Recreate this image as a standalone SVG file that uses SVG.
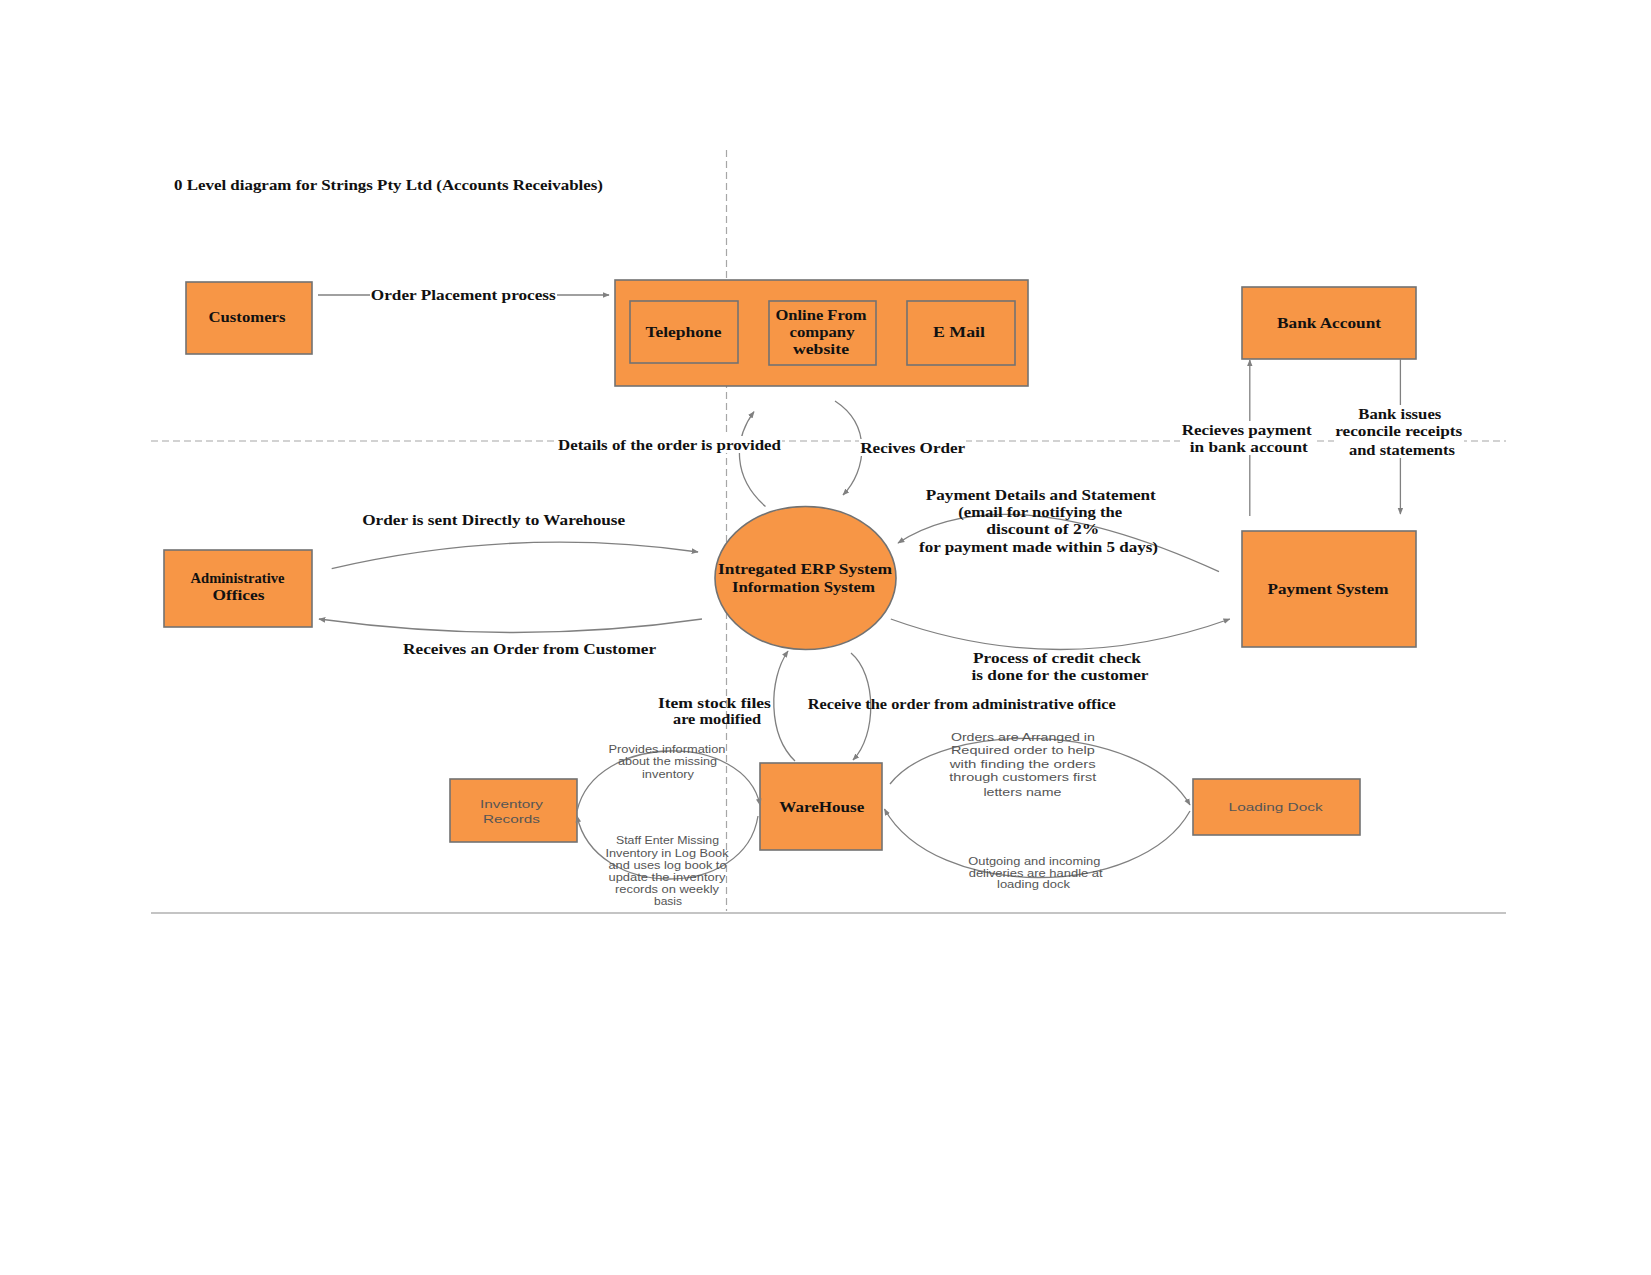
<svg xmlns="http://www.w3.org/2000/svg" width="1651" height="1275" viewBox="0 0 1651 1275">
<style>
.b{font-family:"Liberation Serif","Times New Roman",serif;font-weight:bold;font-size:15px;fill:#111;text-anchor:middle}
.s{font-family:"Liberation Sans",Arial,sans-serif;font-size:10.5px;fill:#555;text-anchor:middle}
.node{fill:#F79646;stroke:#727272;stroke-width:1.6}
.c{fill:none;stroke:#808080;stroke-width:1.3}
.dash{stroke:#a6a6a6;stroke-width:1.2;stroke-dasharray:7 4;fill:none}
.bg{fill:#fff}
</style>
<defs>
<marker id="arr" viewBox="0 0 10 10" refX="9" refY="5" markerWidth="7" markerHeight="7" orient="auto" markerUnits="userSpaceOnUse">
<path d="M0,1 L10,5 L0,9 z" fill="#808080"/>
</marker>
</defs>
<rect width="1651" height="1275" fill="#fff"/>
<g id="guides">
<line class="dash" x1="726.5" y1="150" x2="726.5" y2="911"/>
<line class="dash" x1="151" y1="441" x2="1506" y2="441"/>
<line x1="151" y1="913" x2="1506" y2="913" stroke="#b0b0b0" stroke-width="1.5"/>
</g>
<text class="b" x="388.5" y="189.5" textLength="429" lengthAdjust="spacingAndGlyphs">0 Level diagram for Strings Pty Ltd (Accounts Receivables)</text>
<g id="customers"><rect class="node" x="186" y="282" width="126" height="72"/><text class="b" x="247" y="322" textLength="77" lengthAdjust="spacingAndGlyphs">Customers</text></g>
<g id="order-channels"><rect class="node" x="615" y="280" width="413" height="106"/></g>
<g id="telephone"><rect class="node" x="630" y="301" width="108" height="62"/><text class="b" x="683.4" y="337" textLength="76" lengthAdjust="spacingAndGlyphs">Telephone</text></g>
<g id="online"><rect class="node" x="769" y="301" width="107" height="64"/><text class="b" x="821" y="320" textLength="91" lengthAdjust="spacingAndGlyphs">Online From</text><text class="b" x="822" y="337" textLength="65" lengthAdjust="spacingAndGlyphs">company</text><text class="b" x="821" y="353.5" textLength="56" lengthAdjust="spacingAndGlyphs">website</text></g>
<g id="email"><rect class="node" x="907" y="301" width="108" height="64"/><text class="b" x="959" y="337" textLength="52" lengthAdjust="spacingAndGlyphs">E Mail</text></g>
<g id="bank"><rect class="node" x="1242" y="287" width="174" height="72"/><text class="b" x="1329" y="327.5" textLength="104" lengthAdjust="spacingAndGlyphs">Bank Account</text></g>
<g id="payment"><rect class="node" x="1242" y="531" width="174" height="116"/><text class="b" x="1328" y="594" textLength="121" lengthAdjust="spacingAndGlyphs">Payment System</text></g>
<g id="admin"><rect class="node" x="164" y="550" width="148" height="77"/><text class="b" x="237.5" y="583" textLength="94" lengthAdjust="spacingAndGlyphs">Administrative</text><text class="b" x="238.5" y="600" textLength="52" lengthAdjust="spacingAndGlyphs">Offices</text></g>
<g id="erp"><ellipse class="node" cx="805.5" cy="578" rx="90.5" ry="71.5"/><text class="b" x="805" y="574" textLength="174" lengthAdjust="spacingAndGlyphs">Intregated ERP System</text><text class="b" x="803.4" y="591.5" textLength="143" lengthAdjust="spacingAndGlyphs">Information System</text></g>
<g id="warehouse"><rect class="node" x="760" y="763" width="122" height="87"/><text class="b" x="821.8" y="812" textLength="85" lengthAdjust="spacingAndGlyphs">WareHouse</text></g>
<g id="inventory"><rect class="node" x="450" y="779" width="127" height="63"/><text class="s" x="511.5" y="808" textLength="63" lengthAdjust="spacingAndGlyphs">Inventory</text><text class="s" x="511.5" y="822.5" textLength="57" lengthAdjust="spacingAndGlyphs">Records</text></g>
<g id="loading"><rect class="node" x="1193" y="779" width="167" height="56"/><text class="s" x="1275.6" y="811.3" textLength="94" lengthAdjust="spacingAndGlyphs">Loading Dock</text></g>
<g id="connectors">
<line class="c" x1="318" y1="295" x2="609" y2="295" marker-end="url(#arr)"/>
<path class="c" d="M765.5,506.5 C733,478 733,440 754,411.7" marker-end="url(#arr)"/>
<path class="c" d="M835,401 C872,425 867,470 843,495" marker-end="url(#arr)"/>
<path class="c" d="M331.7,568.6 Q516,526 698,552" marker-end="url(#arr)"/>
<path class="c" d="M702,619 Q516,646 319,619" marker-end="url(#arr)"/>
<path class="c" d="M1219,571.7 Q1005,474 898,543" marker-end="url(#arr)"/>
<path class="c" d="M890.8,619 Q1060,680 1229.8,619" marker-end="url(#arr)"/>
<path class="c" d="M795,761 C768,735 768,680 788,651" marker-end="url(#arr)"/>
<path class="c" d="M851,653 C877,675 877,735 853,760" marker-end="url(#arr)"/>
<path class="c" d="M577,811 C595,732 745,732 760,805" marker-end="url(#arr)"/>
<path class="c" d="M758,816 C745,900 595,900 577,816" marker-end="url(#arr)"/>
<path class="c" d="M890,784 C940,720 1140,720 1190,805" marker-end="url(#arr)"/>
<path class="c" d="M1190,811 C1140,900 935,900 884.5,809" marker-end="url(#arr)"/>
<line class="c" x1="1249.8" y1="516" x2="1249.8" y2="360" marker-end="url(#arr)"/>
<line class="c" x1="1400.4" y1="359" x2="1400.4" y2="514" marker-end="url(#arr)"/>
</g>
<g id="labels">
<rect class="bg" x="370" y="287" width="187" height="17"/>
<text class="b" x="463.3" y="300" textLength="185" lengthAdjust="spacingAndGlyphs">Order Placement process</text>
<rect class="bg" x="557" y="436" width="225" height="17"/>
<text class="b" x="669.5" y="449.5" textLength="223" lengthAdjust="spacingAndGlyphs">Details of the order is provided</text>
<rect class="bg" x="859" y="439" width="107" height="17"/>
<text class="b" x="912.7" y="452.7" textLength="105" lengthAdjust="spacingAndGlyphs">Recives Order</text>
<rect class="bg" x="1180" y="421" width="133" height="34"/>
<text class="b" x="1246.7" y="434.8" textLength="130" lengthAdjust="spacingAndGlyphs">Recieves payment</text>
<text class="b" x="1248.8" y="451.5" textLength="118" lengthAdjust="spacingAndGlyphs">in bank account</text>
<rect class="bg" x="1334" y="405" width="130" height="53"/>
<text class="b" x="1399.8" y="419" textLength="83" lengthAdjust="spacingAndGlyphs">Bank issues</text>
<text class="b" x="1398.7" y="436" textLength="127" lengthAdjust="spacingAndGlyphs">reconcile receipts</text>
<text class="b" x="1401.9" y="455" textLength="106" lengthAdjust="spacingAndGlyphs">and statements</text>
<text class="b" x="493.7" y="525" textLength="263" lengthAdjust="spacingAndGlyphs">Order is sent Directly to Warehouse</text>
<text class="b" x="529.6" y="654" textLength="253" lengthAdjust="spacingAndGlyphs">Receives an Order from Customer</text>
<text class="b" x="1040.8" y="500" textLength="230" lengthAdjust="spacingAndGlyphs">Payment Details and Statement</text>
<text class="b" x="1040.2" y="517" textLength="164" lengthAdjust="spacingAndGlyphs">(email for notifying the</text>
<text class="b" x="1042.8" y="534" textLength="113" lengthAdjust="spacingAndGlyphs">discount of 2%</text>
<text class="b" x="1038.5" y="551.5" textLength="239" lengthAdjust="spacingAndGlyphs">for payment made within 5 days)</text>
<text class="b" x="1057" y="663" textLength="168" lengthAdjust="spacingAndGlyphs">Process of credit check</text>
<text class="b" x="1060" y="680" textLength="177" lengthAdjust="spacingAndGlyphs">is done for the customer</text>
<text class="b" x="714.4" y="707.5" textLength="113" lengthAdjust="spacingAndGlyphs">Item stock files</text>
<text class="b" x="717" y="724.3" textLength="88" lengthAdjust="spacingAndGlyphs">are modified</text>
<text class="b" x="961.8" y="708.6" textLength="308" lengthAdjust="spacingAndGlyphs">Receive the order from administrative office</text>
<text class="s" x="667" y="753.4" textLength="117" lengthAdjust="spacingAndGlyphs">Provides information</text>
<text class="s" x="667.5" y="765" textLength="99" lengthAdjust="spacingAndGlyphs">about the missing</text>
<text class="s" x="668" y="777.7" textLength="52" lengthAdjust="spacingAndGlyphs">inventory</text>
<text class="s" x="667.5" y="843.7" textLength="103" lengthAdjust="spacingAndGlyphs">Staff Enter Missing</text>
<text class="s" x="667" y="856.7" textLength="123" lengthAdjust="spacingAndGlyphs">Inventory in Log Book</text>
<text class="s" x="667.5" y="869.2" textLength="118" lengthAdjust="spacingAndGlyphs">and uses log book to</text>
<text class="s" x="667" y="880.7" textLength="117" lengthAdjust="spacingAndGlyphs">update the inventory</text>
<text class="s" x="667" y="893.4" textLength="104" lengthAdjust="spacingAndGlyphs">records on weekly</text>
<text class="s" x="668" y="905" textLength="28" lengthAdjust="spacingAndGlyphs">basis</text>
<text class="s" x="1022.9" y="740.7" textLength="144" lengthAdjust="spacingAndGlyphs">Orders are Arranged in</text>
<text class="s" x="1022.9" y="754.4" textLength="144" lengthAdjust="spacingAndGlyphs">Required order to help</text>
<text class="s" x="1022.8" y="768.2" textLength="146" lengthAdjust="spacingAndGlyphs">with finding the orders</text>
<text class="s" x="1022.8" y="780.7" textLength="147" lengthAdjust="spacingAndGlyphs">through customers first</text>
<text class="s" x="1022.4" y="795.5" textLength="78" lengthAdjust="spacingAndGlyphs">letters name</text>
<text class="s" x="1034.3" y="864.7" textLength="132" lengthAdjust="spacingAndGlyphs">Outgoing and incoming</text>
<text class="s" x="1035.7" y="876.7" textLength="134" lengthAdjust="spacingAndGlyphs">deliveries are handle at</text>
<text class="s" x="1033.5" y="888.2" textLength="73" lengthAdjust="spacingAndGlyphs">loading dock</text>
</g>
</svg>
